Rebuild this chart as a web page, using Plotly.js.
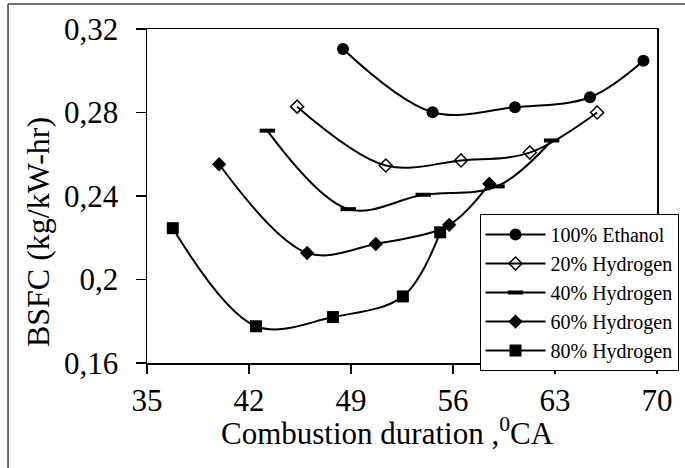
<!DOCTYPE html>
<html>
<head>
<meta charset="utf-8">
<script src="https://cdn.plot.ly/plotly-3.0.1.min.js"></script>
<style>html,body{margin:0;padding:0;background:#fff}#chart{width:685px;height:468px}</style>
</head>
<body>
<div id="chart"></div>
<script>
// Data
const seriesNames = ["100% Ethanol", "20% Hydrogen", "40% Hydrogen", "60% Hydrogen", "80% Hydrogen"];
const ethanolX = [48.45, 54.6, 60.25, 65.4, 69.07];
const ethanolY = [0.3104, 0.2801, 0.2825, 0.2873, 0.3048];
const h20X = [45.3, 51.39, 56.55, 61.27, 65.89];
const h20Y = [0.2828, 0.2546, 0.2570, 0.2608, 0.2800];
const h40X = [43.26, 48.81, 53.96, 59.02, 62.77];
const h40Y = [0.2713, 0.2337, 0.2406, 0.2446, 0.2666];
const h60X = [39.95, 45.99, 50.7, 55.74, 58.49];
const h60Y = [0.2552, 0.2127, 0.2170, 0.2262, 0.2459];
const h80X = [36.77, 42.48, 47.76, 52.56, 55.12];
const h80Y = [0.2246, 0.1776, 0.1820, 0.1919, 0.2226];
const xTicks = [35, 42, 49, 56, 63, 70];
const yTicks = [0.16, 0.2, 0.24, 0.28, 0.32];
const yTickText = ["0,16", "0,2", "0,24", "0,28", "0,32"];
const xTitle = "Combustion duration ,<sup>0</sup>CA";
const yTitle = "BSFC (kg/kW-hr)";

const xs = [ethanolX, h20X, h40X, h60X, h80X];
const ys = [ethanolY, h20Y, h40Y, h60Y, h80Y];
const markers = [
  {symbol: "circle", size: 12, color: "#000"},
  {symbol: "diamond-open", size: 10, color: "#000", line: {width: 1.5, color: "#000"}},
  {symbol: "line-ew", size: 11, color: "#000", line: {width: 4, color: "#000"}},
  {symbol: "diamond", size: 11, color: "#000"},
  {symbol: "square", size: 12, color: "#000"}
];

const serif = "Liberation Serif";
const traces = seriesNames.map((n, i) => ({
  type: "scatter", mode: "lines+markers", name: n,
  x: xs[i], y: ys[i], legendgroup: "g" + i,
  line: {color: "#000", width: 2, shape: "spline", smoothing: 1},
  marker: markers[i]
}));

const frame = {color: "#444", width: 1.5};
const layout = {
  width: 685, height: 468,
  margin: {l: 147, r: 28, t: 29, b: 105, autoexpand: false},
  paper_bgcolor: "#fff", plot_bgcolor: "#fff",
  font: {family: serif, color: "#000"},
  showlegend: true,
  legend: {
    x: 0.652, y: 0.446, xanchor: "left", yanchor: "top",
    bgcolor: "#fff", bordercolor: "#000", borderwidth: 1,
    font: {family: serif, size: 20, color: "#000"},
    itemwidth: 60, tracegroupgap: 3, traceorder: "normal"
  },
  xaxis: {
    range: [35, 70], tickvals: xTicks, ticktext: xTicks.map(String),
    showgrid: false, zeroline: false, automargin: false,
    showline: true, linecolor: "#000", linewidth: 1.5, mirror: true,
    ticks: "outside", ticklen: 9, tickwidth: 1.5, tickcolor: "#000",
    tickfont: {family: serif, size: 31, color: "#000"}
  },
  yaxis: {
    range: [0.16, 0.32], tickvals: yTicks, ticktext: yTickText,
    showgrid: false, zeroline: false, automargin: false,
    showline: true, linecolor: "#000", linewidth: 1.5, mirror: true,
    ticks: "outside", ticklen: 10, tickwidth: 1.5, tickcolor: "#000",
    ticklabelstandoff: 11,
    tickfont: {family: serif, size: 31, color: "#000"}
  },
  annotations: [
    {text: xTitle, xref: "paper", yref: "paper", x: 0.4725, y: -0.205,
     xanchor: "center", yanchor: "middle", showarrow: false,
     font: {family: serif, size: 31, color: "#000"}},
    {text: yTitle, xref: "paper", yref: "paper", x: -0.2137, y: 0.392,
     xanchor: "center", yanchor: "middle", showarrow: false, textangle: -90,
     font: {family: serif, size: 32, color: "#000"}}
  ],
  shapes: [
    {type: "line", xref: "paper", yref: "paper", x0: -0.2725, x1: -0.2725, y0: -0.4, y1: 1.075, line: frame, layer: "above"},
    {type: "line", xref: "paper", yref: "paper", x0: -0.2725, x1: 1.1, y0: 1.075, y1: 1.075, line: frame, layer: "above"}
  ]
};

Plotly.newPlot("chart", traces, layout, {displayModeBar: false, staticPlot: true});
</script>
</body>
</html>
